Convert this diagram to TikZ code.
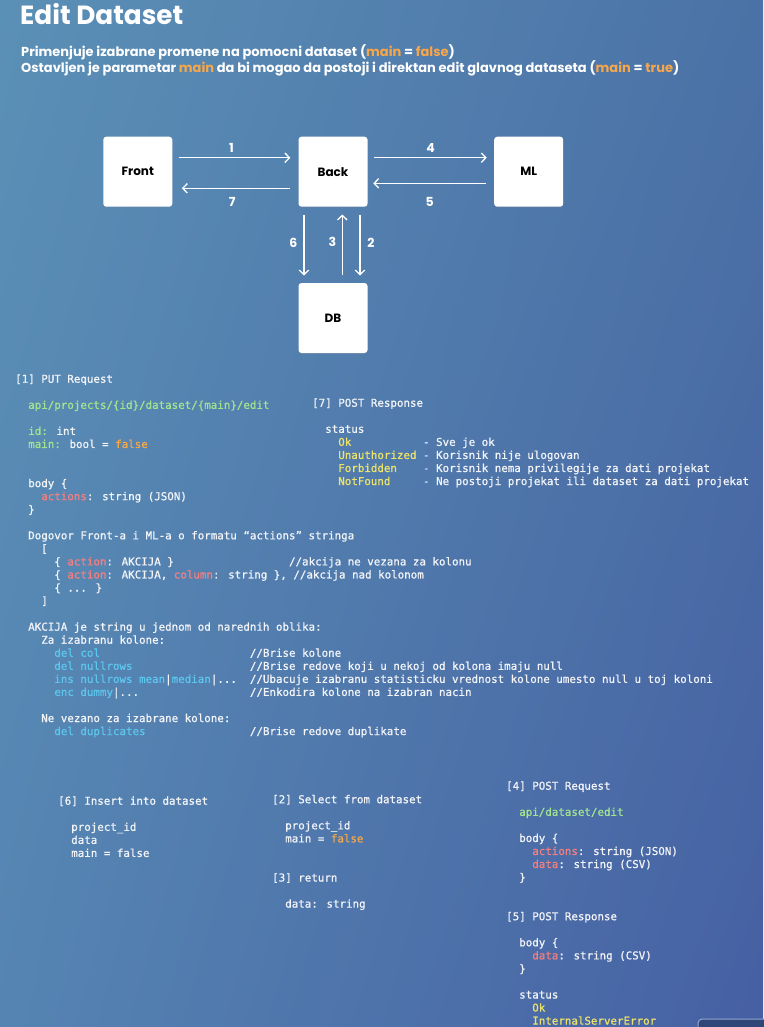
\documentclass[tikz,border=0pt]{standalone}
\usepackage{fontspec}
\setmainfont{Poppins}
\newfontfamily\monoFont[FakeBold=0.9]{DejaVu Sans Mono}
\usetikzlibrary{arrows.meta,shadings,shadows}

% Colours
\definecolor{bgUL}{HTML}{5B90B6}
\definecolor{bgUR}{HTML}{4B72A6}
\definecolor{bgLL}{HTML}{5584B2}
\definecolor{bgLR}{HTML}{4660A3}
\definecolor{titleOrange}{HTML}{F7A64A}
\definecolor{codeWhite}{HTML}{F2F4F8}
\definecolor{codeGreen}{HTML}{A3E48F}
\definecolor{codeRed}{HTML}{F47F7F}
\definecolor{codeOrange}{HTML}{F5A84A}
\definecolor{codeYellow}{HTML}{EEE36A}
\definecolor{codeCyan}{HTML}{5DC6EF}
\definecolor{scrollFill}{HTML}{2F4679}
\definecolor{scrollEdge}{HTML}{90A7D2}

% Code helpers
\newlength\charWd
\newcommand\codeFont{\monoFont\fontsize{10.83}{13.05}\selectfont}
\AtBeginDocument{\settowidth\charWd{\codeFont x}}
\newcommand\codeIndent[1]{\hspace*{#1\charWd}}
\newcommand\padTo[2]{\makebox[#1\charWd][l]{#2}}
\newcommand\hlGreen[1]{\textcolor{codeGreen}{#1}}
\newcommand\hlRed[1]{\textcolor{codeRed}{#1}}
\newcommand\hlOrange[1]{\textcolor{codeOrange}{#1}}
\newcommand\hlYellow[1]{\textcolor{codeYellow}{#1}}
\newcommand\hlCyan[1]{\textcolor{codeCyan}{#1}}
\newcommand\hlMain[1]{\textcolor{titleOrange}{#1}}
\newcommand\firstLine{\rule{0pt}{9pt}}

\begin{document}
\begin{tikzpicture}[x=1pt,y=-1pt,
  box/.style={fill=white, rounded corners=3pt, minimum width=69pt, minimum height=70pt, inner sep=0pt, text=black, font=\fontsize{12}{14}\selectfont\bfseries,
    drop shadow={opacity=0.2, shadow xshift=0pt, shadow yshift=-1pt}},
  flow/.style={draw=white, line width=1.3pt, -{Straight Barb[length=4.5pt,width=9.5pt]}},
  num/.style={text=white, inner sep=0pt, font=\fontsize{12.5}{14}\selectfont\bfseries},
  code/.style={anchor=north west, align=left, inner sep=0pt, text=codeWhite, font=\codeFont},
  subtitle/.style={anchor=base west, inner sep=0pt, text=white, font=\fontsize{13}{15}\selectfont\bfseries}]

% Background
\useasboundingbox (0,0) rectangle (763,1027);
\shade[upper left=bgUL, upper right=bgUR, lower left=bgLL, lower right=bgLR] (0,0) rectangle (763,1027);

% Title
\node[anchor=base west, inner sep=0pt, text=white, font=\fontsize{26.3}{30}\selectfont\bfseries] (title) at (20,24.5) {Edit Dataset};
\node[subtitle] (sub1) at (21,56.7) {Primenjuje izabrane promene na pomocni dataset (\hlMain{main} = \hlMain{false})};
\node[subtitle] (sub2) at (21,72.3) {Ostavljen je parametar \hlMain{main} da bi mogao da postoji i direktan edit glavnog dataseta (\hlMain{main} = \hlMain{true})};

% Components
\node[box] (front) at (137.8,171.7) {Front};
\node[box] (back) at (333,171.7) {Back};
\node[box] (ml) at (528.7,171.7) {ML};
\node[box] (db) at (333,318) {DB};

% Flows
\draw[flow] ([xshift=6pt,yshift=14pt]front.east) -- ([xshift=-8pt,yshift=14pt]back.west) node[num,midway,yshift=9.7pt,xshift=-3pt]{1};
\draw[flow] ([xshift=-8pt,yshift=-16.6pt]back.west) -- ([xshift=9.4pt,yshift=-16.6pt]front.east) node[num,midway,yshift=-13.4pt,xshift=-4pt]{7};
\draw[flow] ([xshift=6.6pt,yshift=14pt]back.east) -- ([xshift=-7.3pt,yshift=14pt]ml.west) node[num,midway,yshift=9.7pt]{4};
\draw[flow] ([xshift=-8pt,yshift=-11.6pt]ml.west) -- ([xshift=5.6pt,yshift=-11.6pt]back.east) node[num,midway,yshift=-18.4pt]{5};
\draw[flow] ([xshift=-29pt,yshift=-8.3pt]back.south) -- ([xshift=-29pt,yshift=7.3pt]db.north) node[num,midway,xshift=-10.7pt,yshift=2.8pt]{6};
\draw[flow] ([xshift=9.3pt,yshift=8pt]db.north) -- ([xshift=9.3pt,yshift=-7.6pt]back.south) node[num,midway,xshift=-10pt,yshift=2.8pt]{3};
\draw[flow] ([xshift=27pt,yshift=-8.3pt]back.south) -- ([xshift=27pt,yshift=7.3pt]db.north) node[num,midway,xshift=11pt,yshift=2.8pt]{2};

% [1] PUT request
\node[code] (putReq) at (15,373.5) {\firstLine[1] PUT Request\\
\mbox{}\\
\codeIndent{2}\hlGreen{api/projects/\{id\}/dataset/\{main\}/edit}\\
\mbox{}\\
\codeIndent{2}\hlGreen{id:} int\\
\codeIndent{2}\hlGreen{main:} bool = \hlOrange{false}\\
\mbox{}\\
\mbox{}\\
\codeIndent{2}body \{\\
\codeIndent{4}\hlRed{actions}: string (JSON)\\
\codeIndent{2}\}\\
\mbox{}\\
\codeIndent{2}Dogovor Front-a i ML-a o formatu “actions” stringa\\
\codeIndent{4}{[}\\
\codeIndent{6}\padTo{36}{\{ \hlRed{action}: AKCIJA \}}//akcija ne vezana za kolonu\\
\codeIndent{6}\{ \hlRed{action}: AKCIJA, \hlRed{column}: string \}, //akcija nad kolonom\\
\codeIndent{6}\{ ... \}\\
\codeIndent{4}{]}\\
\mbox{}\\
\codeIndent{2}AKCIJA je string u jednom od narednih oblika:\\
\codeIndent{4}Za izabranu kolone:\\
\codeIndent{6}\padTo{30}{\hlCyan{del col}}//Brise kolone\\
\codeIndent{6}\padTo{30}{\hlCyan{del nullrows}}//Brise redove koji u nekoj od kolona imaju null\\
\codeIndent{6}\padTo{30}{\hlCyan{ins nullrows mean}|\hlCyan{median}|...}//Ubacuje izabranu statisticku vrednost kolone umesto null u toj koloni\\
\codeIndent{6}\padTo{30}{\hlCyan{enc dummy}|...}//Enkodira kolone na izabran nacin\\
\mbox{}\\
\codeIndent{4}Ne vezano za izabrane kolone:\\
\codeIndent{6}\padTo{30}{\hlCyan{del duplicates}}//Brise redove duplikate};

% [7] POST response
\node[code] (postResp) at (312,397.5) {\firstLine[7] POST Response\\
\mbox{}\\
\codeIndent{2}status\\
\codeIndent{4}\padTo{13}{\hlYellow{Ok}}- Sve je ok\\
\codeIndent{4}\padTo{13}{\hlYellow{Unauthorized}}- Korisnik nije ulogovan\\
\codeIndent{4}\padTo{13}{\hlYellow{Forbidden}}- Korisnik nema privilegije za dati projekat\\
\codeIndent{4}\padTo{13}{\hlYellow{NotFound}}- Ne postoji projekat ili dataset za dati projekat};

% [6] insert
\node[code] (dbInsert) at (58,795.5) {\firstLine[6] Insert into dataset\\
\mbox{}\\
\codeIndent{2}project\_id\\
\codeIndent{2}data\\
\codeIndent{2}main = false};

% [2] select, [3] return
\node[code] (dbSelect) at (272,794) {\firstLine[2] Select from dataset\\
\mbox{}\\
\codeIndent{2}project\_id\\
\codeIndent{2}main = \hlOrange{false}\\
\mbox{}\\
\mbox{}\\
{[}3] return\\
\mbox{}\\
\codeIndent{2}data: string};

% [4] ML request, [5] ML response
\node[code] (mlReq) at (506,780.5) {\firstLine[4] POST Request\\
\mbox{}\\
\codeIndent{2}\hlGreen{api/dataset/edit}\\
\mbox{}\\
\codeIndent{2}body \{\\
\codeIndent{4}\hlRed{actions}: string (JSON)\\
\codeIndent{4}\hlRed{data}: string (CSV)\\
\codeIndent{2}\}\\
\mbox{}\\
\mbox{}\\
{[}5] POST Response\\
\mbox{}\\
\codeIndent{2}body \{\\
\codeIndent{4}\hlRed{data}: string (CSV)\\
\codeIndent{2}\}\\
\mbox{}\\
\codeIndent{2}status\\
\codeIndent{4}\hlYellow{Ok}\\
\codeIndent{4}\hlYellow{InternalServerError}};

% Scroll bar
\draw[draw=scrollEdge, fill=scrollFill, line width=1pt, rounded corners=4pt] (698,1019) rectangle (775,1034);

\end{tikzpicture}
\end{document}
